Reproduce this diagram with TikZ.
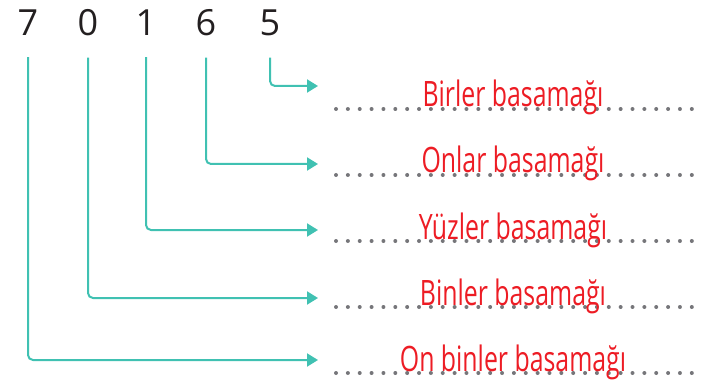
\documentclass[tikz,border=0pt]{standalone}
\usepackage{fontspec}
\setmainfont{Open Sans}
\newfontfamily\handfont{Open Sans}[FakeStretch=0.71]
\usepackage{tikz}
\usetikzlibrary{arrows.meta,positioning}
\definecolor{ink}{RGB}{35,31,32}
\definecolor{accent}{RGB}{64,193,178}
\definecolor{accentred}{RGB}{237,28,36}
\definecolor{dotgray}{RGB}{118,118,122}

\begin{document}
\begin{tikzpicture}[x=1pt,y=-1pt,
    digit/.style={anchor=base,inner sep=0pt,
      font=\fontsize{36}{40}\selectfont,text=ink},
    place/.style={anchor=base,inner sep=0pt,
      font=\handfont\fontsize{35}{40}\selectfont,text=accentred},
    link/.style={draw=accent,line width=2pt,rounded corners=5pt,
      -{Triangle[length=11pt,width=13pt]}},
    dotline/.style={draw=dotgray,line width=4pt,line cap=round,
      dash pattern=on 0pt off 11.86pt}]
  \useasboundingbox (0,0) rectangle (714,382);
  % the number 70165
  \node[digit] (onbinler) at (28,36) {7};
  \node[digit] (binler) at (88,36) {0};
  \node[digit] (yuzler) at (146,36) {1};
  \node[digit] (onlar) at (206,36) {6};
  \node[digit] (birler) at (270,36) {5};
  % dotted answer lines
  \draw[dotline] (336,109) -- (692,109);
  \draw[dotline] (336,175) -- (692,175);
  \draw[dotline] (336,241) -- (692,241);
  \draw[dotline] (336,307) -- (692,307);
  \draw[dotline] (336,373) -- (692,373);
  % place names
  \node[place] (birlerlbl) at (513,107) {Birler basamağı};
  \node[place] (onlarlbl) at (513,173) {Onlar basamağı};
  \node[place] (yuzlerlbl) at (513,239) {Yüzler basamağı};
  \node[place] (binlerlbl) at (513,305) {Binler basamağı};
  \node[place] (onbinlerlbl) at (513,371) {On binler basamağı};
  % arrow ends
  \coordinate (birlertip) at (318,86);
  \coordinate (onlartip) at (318,164);
  \coordinate (yuzlertip) at (318,230);
  \coordinate (binlertip) at (318,298);
  \coordinate (onbinlertip) at (318,360);
  \draw[link] ([yshift=-21pt]birler.south) |- (birlertip);
  \draw[link] ([yshift=-21pt]onlar.south) |- (onlartip);
  \draw[link] ([yshift=-21pt]yuzler.south) |- (yuzlertip);
  \draw[link] ([yshift=-21pt]binler.south) |- (binlertip);
  \draw[link] ([yshift=-21pt]onbinler.south) |- (onbinlertip);
\end{tikzpicture}
\end{document}
